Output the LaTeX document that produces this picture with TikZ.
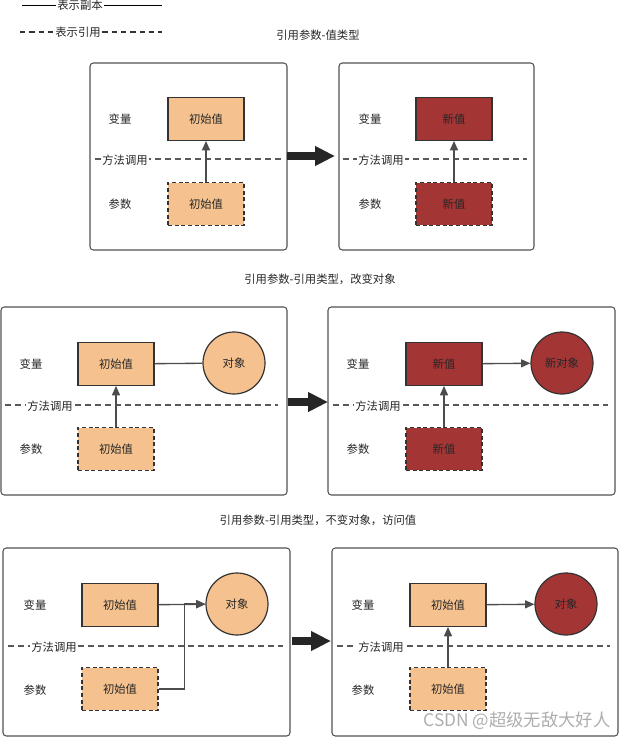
\documentclass[tikz,border=0pt]{standalone}
\usepackage{fontspec}
\setmainfont{Noto Sans CJK SC}
\usetikzlibrary{arrows.meta}
\definecolor{peach}{HTML}{F5C28F}
\definecolor{wine}{HTML}{A33535}
\definecolor{edge}{HTML}{333333}

\begin{document}
\begin{tikzpicture}[x=0.75pt,y=-0.75pt,
  every node/.style={font=\fontsize{8.5}{10}\selectfont, text=black!85},
  frame/.style={draw=edge!85, line width=0.8pt, rounded corners=2.5pt},
  valbox/.style={draw=edge, line width=0.9pt, minimum width=57pt, minimum height=32pt},
  argbox/.style={valbox, dash pattern=on 3pt off 2pt},
  obj/.style={circle, draw=edge, line width=0.9pt, minimum size=46.5pt, inner sep=0pt},
  callline/.style={draw=black!65, line width=0.9pt, dash pattern=on 4.5pt off 3pt},
  calltext/.style={fill=white, inner sep=1pt},
  link/.style={draw=black!70, line width=1pt, -{Triangle[length=7pt,width=6pt]}},
  bigarrow/.style={draw=black!85, line width=6pt, -{Triangle[length=15pt,width=14pt]}}]
\useasboundingbox (0,0) rectangle (639,742);

% legend
\node[inner sep=1pt] (copyleg) at (80,5) {表示副本};
\draw[black, line width=0.6pt] (22,5) -- (copyleg.west);
\draw[black, line width=0.6pt] (copyleg.east) -- (162,5);
\node[inner sep=1pt] (refleg) at (78,32) {表示引用};
\draw[black!80, line width=0.8pt, dash pattern=on 4pt off 3pt] (20,32) -- (refleg.west);
\draw[black!80, line width=0.8pt, dash pattern=on 4pt off 3pt] (refleg.east) -- (162,32);

% part 1: value type
\node (titleA) at (318,35) {引用参数-值类型};
\draw[frame] (90,63) rectangle (287,250);
\draw[callline] (95,159) -- (285,159);
\node[calltext] (callA) at (125,160) {方法调用};
\node (varA) at (120,119) {变量};
\node (argA) at (120,204) {参数};
\node[valbox, fill=peach] (oldA) at (206,119) {初始值};
\node[argbox, fill=peach] (poldA) at (206,204) {初始值};
\draw[link] (poldA) -- (oldA);

\draw[frame] (339,63) rectangle (534,250);
\draw[callline] (343,159) -- (527,159);
\node[calltext] (callB) at (381,160) {方法调用};
\node (varB) at (370,119) {变量};
\node (argB) at (370,204) {参数};
\node[valbox, fill=wine] (newB) at (454,119) {新值};
\node[argbox, fill=wine] (pnewB) at (454,204) {新值};
\draw[link] (pnewB) -- (newB);

\draw[bigarrow] (287,156) -- (335,156);

% part 2: reference type, object changed
\node (titleC) at (320,279) {引用参数-引用类型，改变对象};
\draw[frame] (1,307) rectangle (287,495);
\draw[callline] (5,405) -- (278,405);
\node[calltext] (callC) at (50,406) {方法调用};
\node (varC) at (31,364) {变量};
\node (argC) at (31,449) {参数};
\node[valbox, fill=peach] (oldC) at (116,364) {初始值};
\node[obj, fill=peach] (objC) at (234,363) {对象};
\node[argbox, fill=peach] (poldC) at (116,449) {初始值};
\draw[draw=black!70, line width=1pt] (oldC) -- (objC);
\draw[link] (poldC) -- (oldC);

\draw[frame] (328,307) rectangle (615,495);
\draw[callline] (333,405) -- (608,405);
\node[calltext] (callD) at (378,406) {方法调用};
\node (varD) at (358,364) {变量};
\node (argD) at (358,449) {参数};
\node[valbox, fill=wine] (newD) at (444,364) {新值};
\node[obj, fill=wine] (objD) at (562,363) {新对象};
\node[argbox, fill=wine] (pnewD) at (444,449) {新值};
\draw[link] (newD) -- (objD);
\draw[link] (pnewD) -- (newD);

\draw[bigarrow] (288,402) -- (328,402);

% part 3: reference type, object kept, value read
\node (titleE) at (318,520) {引用参数-引用类型，不变对象，访问值};
\draw[frame] (3,548) rectangle (290,736);
\draw[callline] (8,646) -- (283,646);
\node[calltext] (callE) at (54,647) {方法调用};
\node (varE) at (35,605) {变量};
\node (argE) at (35,690) {参数};
\node[valbox, fill=peach] (oldE) at (120,605) {初始值};
\node[obj, fill=peach] (objE) at (237,604) {对象};
\node[argbox, fill=peach] (poldE) at (120,689) {初始值};
\draw[link] (oldE) -- (objE);
\draw[link] (poldE.east) -- ++(26,0) |- (objE.west);

\draw[frame] (332,548) rectangle (618,736);
\draw[callline] (337,646) -- (610,646);
\node[calltext] (callF) at (381,647) {方法调用};
\node (varF) at (363,605) {变量};
\node (argF) at (363,690) {参数};
\node[valbox, fill=peach] (oldF) at (448,605) {初始值};
\node[obj, fill=wine] (objF) at (566,604) {对象};
\node[argbox, fill=peach] (poldF) at (448,689) {初始值};
\draw[link] (oldF) -- (objF);
\draw[link] (poldF) -- (oldF);

\draw[bigarrow] (292,641) -- (331,641);

\node[font=\fontsize{13}{15}\selectfont, text=black!40, opacity=0.8] (mark) at (517,721) {CSDN @超级无敌大好人};
\end{tikzpicture}
\end{document}
